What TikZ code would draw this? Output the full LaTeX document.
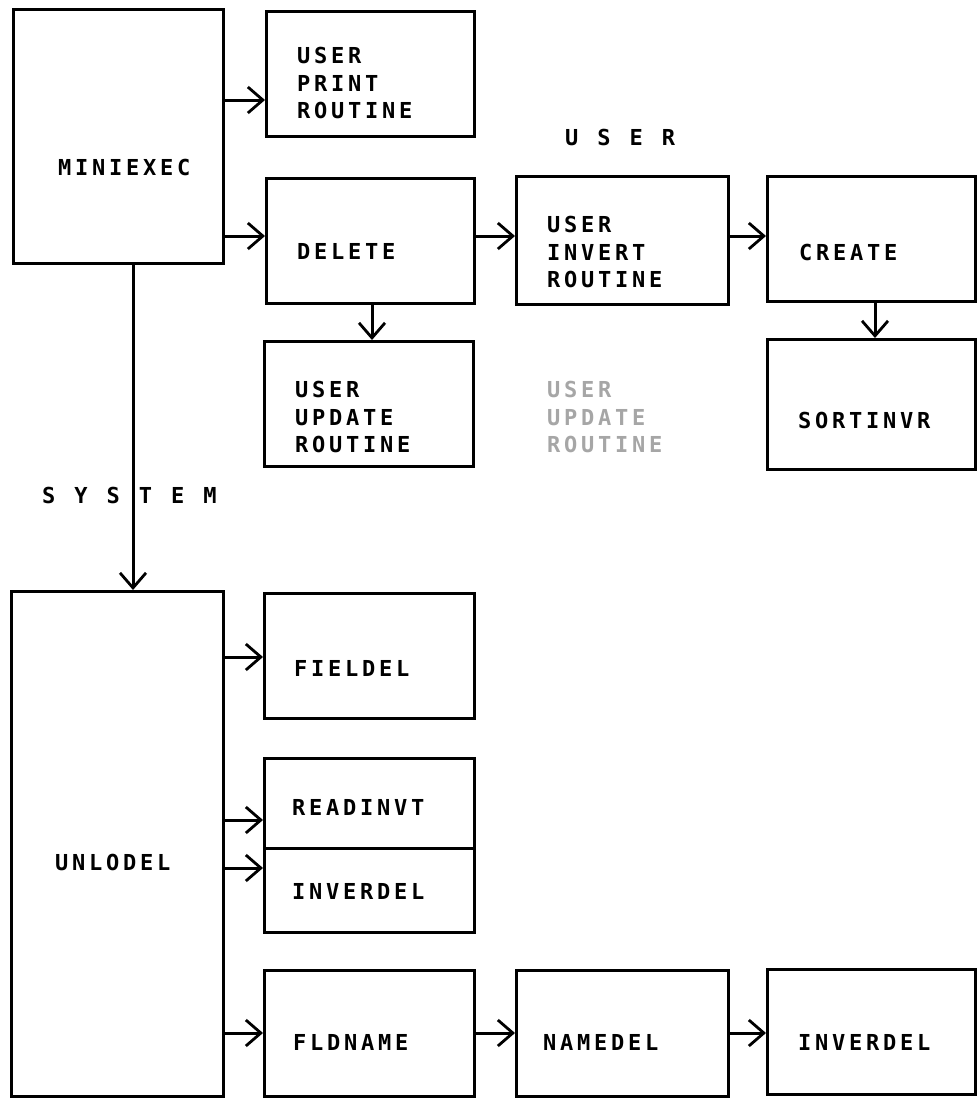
\documentclass[tikz,border=0pt]{standalone}
\usepackage{fontspec}
\newfontfamily\lbl{DejaVu Sans Mono Bold}[LetterSpace=17]
\usetikzlibrary{arrows.meta}
\tikzset{
  box/.style={draw, line width=3pt, rectangle, anchor=north west, inner sep=0pt},
  txt/.style={anchor=west, inner sep=0pt, font=\lbl\fontsize{22}{27.5}\selectfont, align=left},
  faint/.style={txt, text=black!35},
  arr/.style={line width=3pt, -{Straight Barb[length=15pt, width=26pt, line width=2.8pt]}},
}
\newcommand{\bx}[5]{\node[box, minimum width=#4pt, minimum height=#5pt] (#1) at (#2,#3) {};}
\newcommand{\lsp}{\hspace{19pt}}
\begin{document}
\begin{tikzpicture}[x=1pt,y=-1pt]
\useasboundingbox (0,0) rectangle (977,1098);
% boxes
\bx{mini}{12}{8}{210}{254}
\bx{print}{265}{10}{208}{125}
\bx{delete}{265}{177}{208}{125}
\bx{invert}{515}{175}{212}{128}
\bx{create}{766}{175}{208}{125}
\bx{sort}{766}{338}{208}{130}
\bx{update}{263}{340}{209}{125}
\bx{unlo}{10}{590}{212}{505}
\bx{field}{263}{592}{210}{125}
\bx{readinvt}{263}{757}{210}{90}
\bx{inverdelA}{263}{847}{210}{84}
\bx{fld}{263}{969}{210}{126}
\bx{name}{515}{969}{212}{126}
\bx{inverdelB}{766}{968}{208}{125}
% texts
\node[txt] (tmini) at (58,167) {MINIEXEC};
\node[txt] (tprint) at (297,83) {USER\\PRINT\\ROUTINE};
\node[txt] (tdelete) at (297,251) {DELETE};
\node[txt] (tinvert) at (547,252) {USER\\INVERT\\ROUTINE};
\node[txt] (tcreate) at (799,252) {CREATE};
\node[txt] (tsort) at (798,420) {SORTINVR};
\node[txt] (tupdate) at (295,417) {USER\\UPDATE\\ROUTINE};
\node[faint] (tghost) at (547,417) {USER\\UPDATE\\ROUTINE};
\node[txt] (tuser) at (565,137) {U\lsp S\lsp E\lsp R};
\node[txt] (tsystem) at (42,495) {S\lsp Y\lsp S\lsp T\lsp E\lsp M};
\node[txt] (tunlo) at (55,862) {UNLODEL};
\node[txt] (tfield) at (294,668) {FIELDEL};
\node[txt] (treadinvt) at (292,807) {READINVT};
\node[txt] (tinverdelA) at (292,891) {INVERDEL};
\node[txt] (tfld) at (293,1042) {FLDNAME};
\node[txt] (tname) at (543,1042) {NAMEDEL};
\node[txt] (tinverdelB) at (798,1042) {INVERDEL};
% arrow levels
\coordinate (y1) at (0,100);
\coordinate (y2) at (0,236);
\coordinate (x1) at (133,0);
\coordinate (x2) at (372,0);
\coordinate (x3) at (875,0);
\coordinate (y3) at (0,657);
\coordinate (y4) at (0,820);
\coordinate (y5) at (0,868);
\coordinate (y6) at (0,1033);
% connectors
\draw[arr] (mini.east |- y1) -- (print.west |- y1);
\draw[arr] (mini.east |- y2) -- (delete.west |- y2);
\draw[arr] (delete.east |- y2) -- (invert.west |- y2);
\draw[arr] (invert.east |- y2) -- (create.west |- y2);
\draw[arr] (delete.south -| x2) -- (update.north -| x2);
\draw[arr] (create.south -| x3) -- (sort.north -| x3);
\draw[arr] (mini.south -| x1) -- (unlo.north -| x1);
\draw[arr] (unlo.east |- y3) -- (field.west |- y3);
\draw[arr] (unlo.east |- y4) -- (readinvt.west |- y4);
\draw[arr] (unlo.east |- y5) -- (inverdelA.west |- y5);
\draw[arr] (unlo.east |- y6) -- (fld.west |- y6);
\draw[arr] (fld.east |- y6) -- (name.west |- y6);
\draw[arr] (name.east |- y6) -- (inverdelB.west |- y6);
\end{tikzpicture}
\end{document}
